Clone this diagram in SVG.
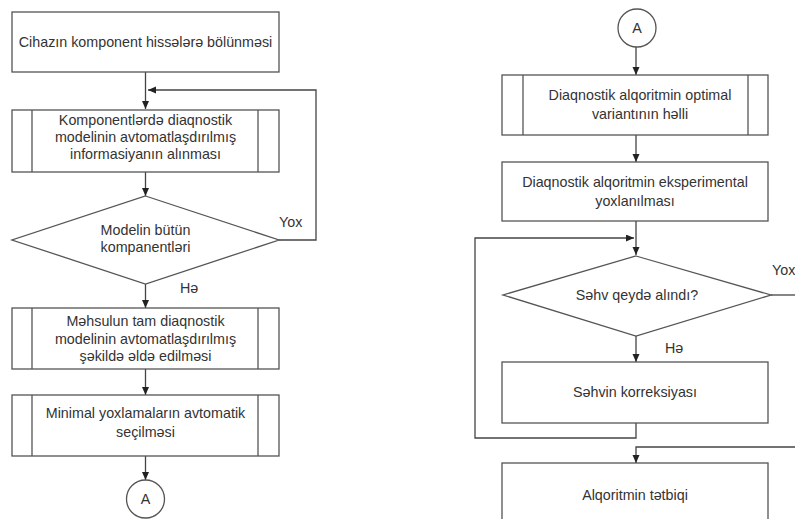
<svg xmlns="http://www.w3.org/2000/svg" width="795" height="519" viewBox="0 0 795 519">
<defs>
<marker id="ah" markerUnits="userSpaceOnUse" markerWidth="8" markerHeight="8" refX="8" refY="3.5" orient="auto">
<path d="M0,0 L8,3.5 L0,7 z" fill="#222"/>
</marker>
<style>
.box{fill:#fff;stroke:#555;stroke-width:1.3}
.in{stroke:#555;stroke-width:1.3}
.t{font-family:"Liberation Sans",Arial,sans-serif;font-size:14.3px;fill:#333;text-anchor:middle}
.lb{font-family:"Liberation Sans",Arial,sans-serif;font-size:14.3px;fill:#333}
.c{fill:none;stroke:#444;stroke-width:1.3}
.a{marker-end:url(#ah)}
</style>
</defs>
<rect width="795" height="519" fill="#fff"/>
<g id="connectors">
<path class="c a" d="M145.5,72 V109"/>
<path class="c a" d="M279,240 H316 V90 H148"/>
<path class="c a" d="M145.5,172 V196"/>
<path class="c a" d="M145.5,284 V308"/>
<path class="c a" d="M145.5,369 V395"/>
<path class="c a" d="M145.5,456 V480"/>
<path class="c a" d="M636,47 V75"/>
<path class="c a" d="M636,135 V162"/>
<path class="c a" d="M636,221 V255"/>
<path class="c a" d="M636,336 V362"/>
<path class="c a" d="M636,423 V438 H475 V238 H634"/>
<path class="c" d="M771,295 H795"/>
<path class="c a" d="M795,447 H636 V463"/>
<text class="lb" x="279" y="227">Yox</text>
<text class="lb" x="180" y="293">Hə</text>
<text class="lb" x="772" y="275">Yox</text>
<text class="lb" x="665" y="353">Hə</text>
</g>
<g id="n1">
<rect class="box" x="12" y="12" width="267" height="60"/>
<text class="t" x="145.5" y="47">Cihazın komponent hissələrə bölünməsi</text>
</g>
<g id="n2">
<rect class="box" x="12" y="110" width="267" height="62"/>
<line class="in" x1="32" y1="110" x2="32" y2="172"/>
<line class="in" x1="258" y1="110" x2="258" y2="172"/>
<text class="t" x="145.5" y="125">Komponentlərdə diaqnostik</text>
<text class="t" x="145.5" y="142">modelinin avtomatlaşdırılmış</text>
<text class="t" x="145.5" y="159">informasiyanın alınması</text>
</g>
<g id="n3">
<polygon class="box" points="145.5,196 279,240 145.5,284 12,240"/>
<text class="t" x="145.5" y="235">Modelin bütün</text>
<text class="t" x="145.5" y="252">kompanentləri</text>
</g>
<g id="n4">
<rect class="box" x="12" y="308" width="267" height="61"/>
<line class="in" x1="32" y1="308" x2="32" y2="369"/>
<line class="in" x1="258" y1="308" x2="258" y2="369"/>
<text class="t" x="145.5" y="326">Məhsulun tam diaqnostik</text>
<text class="t" x="145.5" y="344">modelinin avtomatlaşdırılmış</text>
<text class="t" x="145.5" y="361">şəkildə əldə edilməsi</text>
</g>
<g id="n5">
<rect class="box" x="12" y="395" width="267" height="61"/>
<line class="in" x1="32" y1="395" x2="32" y2="456"/>
<line class="in" x1="258" y1="395" x2="258" y2="456"/>
<text class="t" x="145.5" y="418">Minimal yoxlamaların avtomatik</text>
<text class="t" x="145.5" y="437">seçilməsi</text>
</g>
<g id="n6">
<circle class="box" cx="145.5" cy="499" r="19"/>
<text class="t" x="145.5" y="504">A</text>
</g>
<g id="r1">
<circle class="box" cx="637" cy="28" r="19"/>
<text class="t" x="637" y="33">A</text>
</g>
<g id="r2">
<rect class="box" x="502" y="75" width="266" height="60"/>
<line class="in" x1="523" y1="75" x2="523" y2="135"/>
<line class="in" x1="748" y1="75" x2="748" y2="135"/>
<text class="t" x="640" y="100">Diaqnostik alqoritmin optimal</text>
<text class="t" x="640" y="119">variantının həlli</text>
</g>
<g id="r3">
<rect class="box" x="502" y="162" width="266" height="59"/>
<text class="t" x="635" y="187">Diaqnostik alqoritmin eksperimental</text>
<text class="t" x="635" y="206">yoxlanılması</text>
</g>
<g id="r4">
<polygon class="box" points="636,256 771,295 636,336 503,295"/>
<text class="t" x="637" y="300">Səhv qeydə alındı?</text>
</g>
<g id="r5">
<rect class="box" x="502" y="362" width="266" height="61"/>
<text class="t" x="635" y="397">Səhvin korreksiyası</text>
</g>
<g id="r6">
<rect class="box" x="502" y="463" width="266" height="70"/>
<text class="t" x="635" y="500">Alqoritmin tətbiqi</text>
</g>
</svg>
